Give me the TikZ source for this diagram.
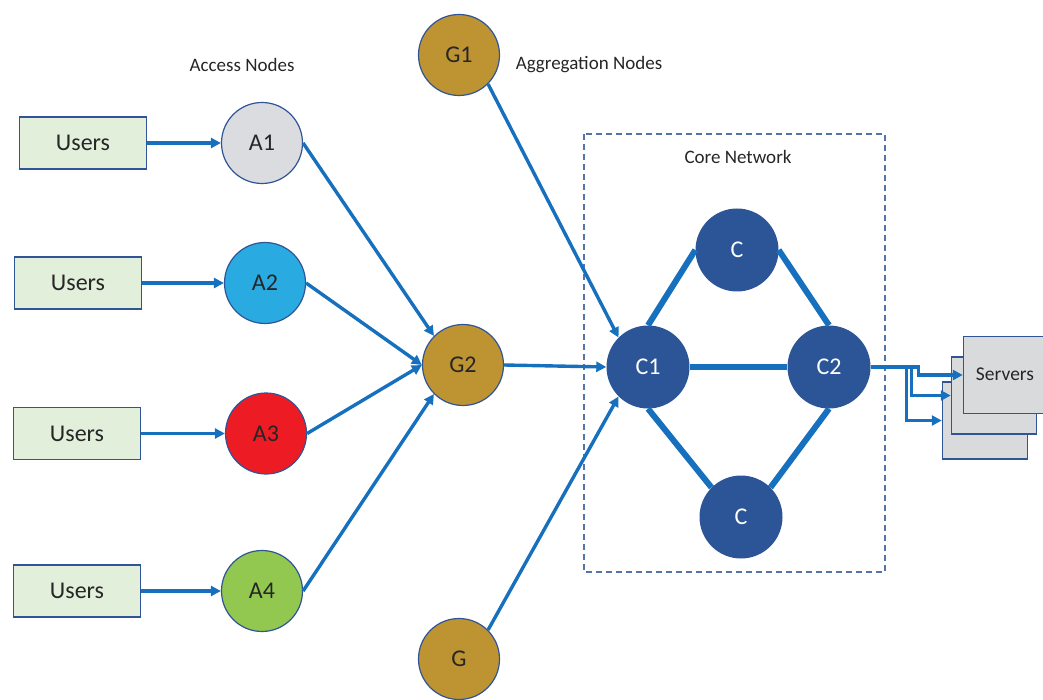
\documentclass[tikz,border=0pt]{standalone}
\usepackage{fontspec}
\setmainfont{Carlito}
\usetikzlibrary{arrows.meta}
\definecolor{linkblue}{RGB}{22,112,190}
\definecolor{rimblue}{RGB}{47,85,151}
\definecolor{coreblue}{RGB}{43,85,151}
\definecolor{usergreen}{RGB}{226,239,218}
\definecolor{srvgray}{RGB}{217,218,220}
\definecolor{accgray}{RGB}{219,220,223}
\definecolor{accblue}{RGB}{41,171,226}
\definecolor{accred}{RGB}{237,28,36}
\definecolor{accgreen}{RGB}{146,200,80}
\definecolor{aggold}{RGB}{190,148,50}
\definecolor{inkdark}{RGB}{38,38,38}
\definecolor{dashblue}{RGB}{84,115,170}
\begin{document}
\begin{tikzpicture}[x=1pt,y=-1pt,
  every node/.style={text=inkdark},
  userbox/.style={draw=rimblue, line width=1.2pt, fill=usergreen,
    minimum width=127pt, minimum height=52pt, inner sep=0pt,
    font=\fontsize{24}{27}\selectfont},
  hub/.style={circle, draw=rimblue, line width=1.2pt, minimum size=81pt,
    inner sep=0pt, font=\fontsize{24}{27}\selectfont},
  corenode/.style={circle, fill=coreblue, minimum size=83pt, inner sep=0pt,
    text=white, font=\fontsize{24}{27}\selectfont},
  srvbox/.style={draw=rimblue, line width=1.5pt, fill=srvgray,
    minimum width=85pt, minimum height=77pt, inner sep=0pt},
  link/.style={draw=linkblue, line width=3.4pt, -{Triangle[length=10pt,width=10pt]}},
  trunk/.style={draw=linkblue, line width=6pt},
  caption/.style={font=\fontsize{19}{22}\selectfont}
]
\useasboundingbox (0,0) rectangle (1043,700);

% core network frame
\draw[dashblue, line width=1.5pt, dash pattern=on 6pt off 4pt] (584,134) rectangle (885,572);

% captions
\node[caption] (accesslabel) at (242,65) {Access Nodes};
\node[caption] (agglabel) at (589,65) {Aggregation Nodes};
\node[caption] (corelabel) at (738,157) {Core Network};

% user groups
\node[userbox] (u1) at (83,143) {Users};
\node[userbox] (u2) at (78,283) {Users};
\node[userbox] (u3) at (77,433.5) {Users};
\node[userbox] (u4) at (77,591) {Users};

% access nodes
\node[hub, fill=accgray] (a1) at (262,143) {A1};
\node[hub, fill=accblue] (a2) at (265,283) {A2};
\node[hub, fill=accred] (a3) at (266,433.5) {A3};
\node[hub, fill=accgreen] (a4) at (262,591) {A4};

% aggregation nodes
\node[hub, fill=aggold] (g1) at (459,55) {G1};
\node[hub, fill=aggold] (g2) at (463,365) {G2};
\node[hub, fill=aggold] (g3) at (459,659) {G};

% core nodes
\node[corenode] (c1) at (648,367) {C1};
\node[corenode] (ctop) at (737,250) {C};
\node[corenode] (c2) at (829,367) {C2};
\node[corenode] (cbot) at (741,517) {C};

% server stack
\node[srvbox] (srvback) at (985,420.5) {};
\node[srvbox] (srvmid) at (994,395.5) {};
\node[srvbox] (srvfront) at (1006,375) {};
\node[font=\fontsize{19.5}{22}\selectfont] (srvtext) at (1005,374) {Servers};

% users to access
\draw[link] (u1) -- (a1);
\draw[link] (u2) -- (a2);
\draw[link] (u3) -- (a3);
\draw[link] (u4) -- (a4);

% access to aggregation
\draw[link] (a1.east) -- (g2.135);
\draw[link] (a2.east) -- (g2.west);
\draw[link] (a3.east) -- (g2.west);
\draw[link] (a4.east) -- (g2.225);

% aggregation to core
\draw[link] (g1.-45) -- (c1.135);
\draw[link] (g2.east) -- (c1.west);
\draw[link] (g3.45) -- (c1.225);

% core mesh
\draw[trunk] (c1.north) -- (ctop.west);
\draw[trunk] (ctop.east) -- (c2.north);
\draw[trunk] (c1.east) -- (c2.west);
\draw[trunk] (c1.south) -- (cbot.135);
\draw[trunk] (cbot.45) -- (c2.south);

% core to servers
\draw[link] (c2.east) -- ++(36,0) |- (srvback.west);
\draw[link] (c2.east) -- ++(41,0) |- (srvmid.west);
\draw[link] (c2.east) -- ++(48,0) |- (srvfront.west);
\end{tikzpicture}
\end{document}
